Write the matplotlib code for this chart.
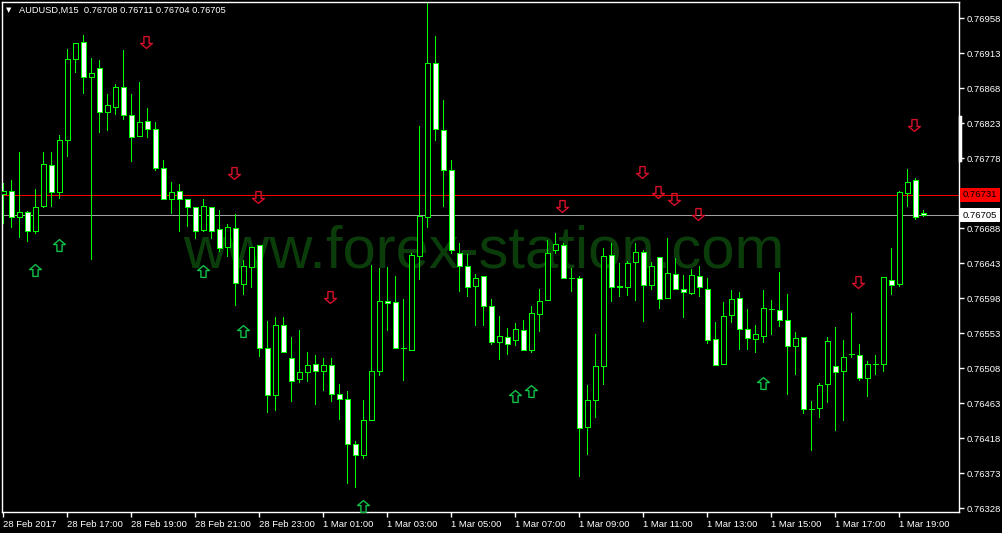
import numpy as np
import matplotlib
matplotlib.use("Agg")
import matplotlib.pyplot as plt
import matplotlib.transforms as mtransforms
from matplotlib.path import Path
from matplotlib.lines import Line2D

plt.rcParams['font.family'] = ['Liberation Sans', 'DejaVu Sans']

W, H, DPI = 1002, 533, 100
PX = 72 / DPI  # one pixel in points

# AUDUSD M15 bars, 28 Feb 15:00 -> 1 Mar 19:45, prices in points (1e-5)
opens = [76732, 76736, 76702, 76709, 76685, 76716, 76769, 76734, 76801, 76905,
         76927, 76882, 76894, 76837, 76844, 76869, 76833, 76806, 76826, 76815,
         76766, 76726, 76736, 76726, 76715, 76686, 76715, 76687, 76664, 76688,
         76616, 76638, 76666, 76534, 76473, 76564, 76521, 76494, 76503, 76514,
         76505, 76512, 76475, 76469, 76410, 76396, 76442, 76504, 76595, 76593,
         76534, 76531, 76652, 76703, 76900, 76814, 76763, 76656, 76640, 76614,
         76626, 76588, 76542, 76548, 76544, 76557, 76531, 76578, 76596, 76660,
         76666, 76624, 76624, 76433, 76467, 76511, 76653, 76614, 76613, 76644,
         76657, 76615, 76651, 76598, 76629, 76610, 76605, 76626, 76610, 76545,
         76513, 76576, 76598, 76559, 76545, 76549, 76584, 76583, 76570, 76537,
         76548, 76456, 76457, 76488, 76511, 76504, 76526, 76525, 76495, 76513,
         76513, 76622, 76616, 76733, 76750, 76708]
highs = [76746, 76750, 76786, 76710, 76739, 76786, 76786, 76808, 76919, 76926,
         76937, 76907, 76904, 76861, 76873, 76917, 76861, 76876, 76843, 76825,
         76776, 76748, 76745, 76726, 76715, 76726, 76715, 76712, 76694, 76706,
         76647, 76664, 76666, 76569, 76574, 76574, 76548, 76557, 76529, 76525,
         76521, 76521, 76488, 76479, 76414, 76467, 76641, 76637, 76638, 76627,
         76597, 76656, 76820, 76978, 76935, 76853, 76776, 76669, 76655, 76629,
         76626, 76597, 76575, 76560, 76566, 76570, 76588, 76610, 76673, 76682,
         76669, 76637, 76626, 76487, 76552, 76663, 76669, 76643, 76646, 76669,
         76660, 76644, 76651, 76676, 76650, 76628, 76636, 76640, 76624, 76568,
         76593, 76609, 76606, 76584, 76564, 76609, 76596, 76632, 76604, 76555,
         76548, 76466, 76489, 76548, 76561, 76544, 76579, 76539, 76517, 76525,
         76625, 76663, 76736, 76764, 76753, 76711]
lows = [76695, 76690, 76677, 76671, 76682, 76715, 76717, 76727, 76781, 76889,
        76862, 76649, 76812, 76814, 76835, 76828, 76775, 76806, 76805, 76763,
        76725, 76707, 76685, 76691, 76675, 76685, 76675, 76659, 76652, 76589,
        76604, 76613, 76524, 76452, 76454, 76529, 76466, 76490, 76492, 76462,
        76480, 76466, 76443, 76360, 76355, 76393, 76441, 76499, 76557, 76534,
        76493, 76531, 76623, 76690, 76802, 76717, 76656, 76607, 76601, 76563,
        76564, 76539, 76520, 76526, 76538, 76531, 76529, 76556, 76596, 76656,
        76624, 76607, 76369, 76398, 76445, 76488, 76594, 76601, 76602, 76596,
        76569, 76610, 76586, 76598, 76610, 76574, 76604, 76601, 76541, 76512,
        76513, 76568, 76533, 76533, 76529, 76542, 76552, 76562, 76475, 76500,
        76451, 76403, 76445, 76464, 76429, 76441, 76523, 76493, 76472, 76501,
        76504, 76604, 76614, 76717, 76700, 76704]
closes = [76736, 76703, 76709, 76685, 76715, 76770, 76734, 76801, 76905, 76926,
          76882, 76887, 76837, 76846, 76869, 76833, 76805, 76824, 76815, 76766,
          76725, 76735, 76726, 76715, 76685, 76716, 76684, 76663, 76689, 76617,
          76640, 76664, 76534, 76473, 76564, 76529, 76491, 76503, 76512, 76505,
          76512, 76475, 76469, 76410, 76396, 76442, 76505, 76595, 76592, 76534,
          76534, 76653, 76704, 76900, 76815, 76763, 76660, 76639, 76613, 76624,
          76588, 76542, 76549, 76539, 76558, 76531, 76579, 76595, 76656, 76668,
          76624, 76624, 76431, 76467, 76511, 76652, 76613, 76613, 76643, 76658,
          76615, 76639, 76597, 76630, 76610, 76606, 76628, 76613, 76544, 76512,
          76575, 76597, 76559, 76547, 76552, 76585, 76584, 76570, 76536, 76547,
          76455, 76456, 76487, 76543, 76503, 76523, 76526, 76495, 76513, 76513,
          76625, 76615, 76734, 76748, 76703, 76705]

# signal arrows: bar index and price (points)
sell_idx = [18, 29, 32, 41, 70, 80, 82, 84, 87, 107, 114]
sell_px = [76928, 76759, 76728, 76600, 76717, 76760, 76735, 76726, 76706, 76619, 76821]
buy_idx = [4, 7, 25, 30, 45, 64, 66, 95]
buy_px = [76634, 76667, 76633, 76556, 76331, 76472, 76479, 76489]

ask, bid = 0.76731, 0.76705
price_ticks = [0.76958, 0.76913, 0.76868, 0.76823, 0.76778, 0.76688, 0.76643,
               0.76598, 0.76553, 0.76508, 0.76463, 0.76418, 0.76373, 0.76328]
time_idx = list(range(0, 113, 8))
time_labels = ['28 Feb 2017', '28 Feb 17:00', '28 Feb 19:00', '28 Feb 21:00',
               '28 Feb 23:00', '1 Mar 01:00', '1 Mar 03:00', '1 Mar 05:00',
               '1 Mar 07:00', '1 Mar 09:00', '1 Mar 11:00', '1 Mar 13:00',
               '1 Mar 15:00', '1 Mar 17:00', '1 Mar 19:00']

o = np.array(opens) / 1e5
h = np.array(highs) / 1e5
l = np.array(lows) / 1e5
c = np.array(closes) / 1e5
x = np.arange(len(o))

CANDLE = '#00ff00'

fig = plt.figure(figsize=(W / DPI, H / DPI), dpi=DPI, facecolor='black')
ax = fig.add_axes([2 / W, 1 - 512 / H, 957 / W, 510 / H], facecolor='black')
ax.set_xlim(-0.16, 119.46)
ax.set_ylim(0.763232, 0.769789)

# watermark behind the bars
ax.text(484 / W, 1 - 267 / H, 'www.forex-station.com', transform=fig.transFigure,
        fontsize=43, color='#0b3d0b', ha='center', va='baseline', zorder=0.5)

ax.axhline(ask, color='#ff0000', lw=PX, zorder=1, antialiased=False)
ax.axhline(bid, color='#a0a0a0', lw=PX, zorder=1, antialiased=False)

# wicks then bodies
ax.vlines(x, l, h, color=CANDLE, lw=PX, zorder=2, antialiased=False)
doji = o == c
body = ~doji
bear = (o > c) & body
bull = (o < c) & body
bw = 0.6
ax.bar(x[bear], (o - c)[bear], bottom=c[bear], width=bw, color='white',
       edgecolor=CANDLE, linewidth=PX, zorder=3, antialiased=False)
ax.bar(x[bull], (c - o)[bull], bottom=o[bull], width=bw, color='black',
       edgecolor=CANDLE, linewidth=PX, zorder=3, antialiased=False)
ax.hlines(o[doji], x[doji] - bw / 2, x[doji] + bw / 2, color=CANDLE, lw=PX,
          zorder=3, antialiased=False)

# hollow arrows
down = Path([(-0.22, 0.5), (0.22, 0.5), (0.22, -0.08), (0.5, -0.08), (0, -0.5),
             (-0.5, -0.08), (-0.22, -0.08), (-0.22, 0.5)],
            [Path.MOVETO] + [Path.LINETO] * 6 + [Path.CLOSEPOLY])
up = Path(down.vertices * [1, -1], down.codes)
ax.plot(np.array(sell_idx) - 0.2, np.array(sell_px) / 1e5, ls='none', marker=down,
        markersize=8.5, mfc='none', mec='#d4102a', mew=1.0, zorder=4)
ax.plot(buy_idx, np.array(buy_px) / 1e5, ls='none', marker=up,
        markersize=8.5, mfc='none', mec='#10c048', mew=1.0, zorder=4)

for sp in ax.spines.values():
    sp.set_color('white')
    sp.set_linewidth(1.0)

ax.yaxis.tick_right()
ax.set_yticks(price_ticks)
ax.set_yticklabels(['%.5f' % p for p in price_ticks])
ax.set_xticks(time_idx)
ax.set_xticklabels(time_labels)
for lbl in ax.get_xticklabels():
    lbl.set_ha('left')
ax.tick_params(axis='both', colors='white', labelsize=6.8, length=3.5, width=1.0)
ax.tick_params(axis='y', pad=2)
ax.tick_params(axis='x', pad=2)

# bid / ask price boxes on the scale
trans = mtransforms.blended_transform_factory(ax.transAxes, ax.transData)
ax.text(1.004, ask, '%.5f' % ask, transform=trans, va='center', ha='left',
        fontsize=6.8, color='black', clip_on=False,
        bbox=dict(boxstyle='square,pad=0.25', fc='#ff0000', ec='none'))
ax.text(1.004, bid, '%.5f' % bid, transform=trans, va='center', ha='left',
        fontsize=6.8, color='black', clip_on=False,
        bbox=dict(boxstyle='square,pad=0.25', fc='white', ec='none'))

# header
fig.text(6 / W, 1 - 10 / H, '\u25bc', color='white', fontsize=5,
         family='DejaVu Sans', va='center')
fig.text(19 / W, 1 - 10 / H, 'AUDUSD,M15  0.76708 0.76711 0.76704 0.76705',
         color='white', fontsize=6.7, va='center')

# scroll marker on the price scale
fig.add_artist(Line2D([960 / W, 960 / W], [1 - 117 / H, 1 - 160 / H],
                      color='white', lw=2.5))

fig.savefig('out.png', dpi=DPI, facecolor='black')
